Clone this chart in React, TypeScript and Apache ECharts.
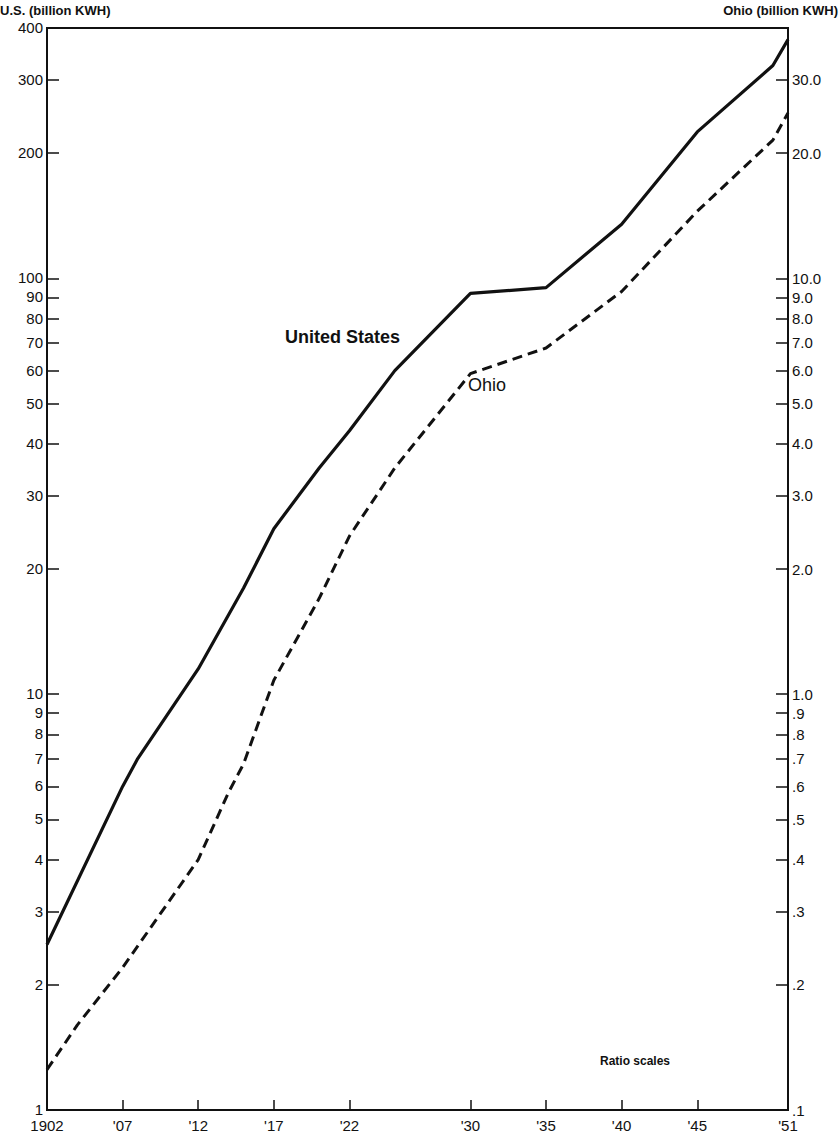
import React, { useEffect, useRef } from "react";
import * as echarts from "echarts";

const years = [1902, 1907, 1908, 1912, 1915, 1917, 1920, 1922, 1925, 1930, 1935, 1940, 1945, 1950, 1951];
const usValues = [2.5, 6.0, 7.0, 11.5, 18, 25, 35, 43, 60, 92, 95, 135, 225, 325, 375];
const ohioYears = [1902, 1904, 1907, 1912, 1914, 1915, 1917, 1920, 1922, 1925, 1930, 1935, 1940, 1945, 1950, 1951];
const ohioValues = [0.125, 0.16, 0.22, 0.4, 0.58, 0.68, 1.08, 1.7, 2.4, 3.5, 5.9, 6.8, 9.3, 14.5, 21.5, 25];
const xTicks = [1902, 1907, 1912, 1917, 1922, 1930, 1935, 1940, 1945, 1951];
const xTickLabels = ["1902", "'07", "'12", "'17", "'22", "'30", "'35", "'40", "'45", "'51"];
const usTicks = [1, 2, 3, 4, 5, 6, 7, 8, 9, 10, 20, 30, 40, 50, 60, 70, 80, 90, 100, 200, 300, 400];
const ohioTicks = [0.1, 0.2, 0.3, 0.4, 0.5, 0.6, 0.7, 0.8, 0.9, 1, 2, 3, 4, 5, 6, 7, 8, 9, 10, 20, 30];

const L = Math.log10;
const font = "Liberation Sans, Arial, sans-serif";

export default function App() {
  const ref = useRef<HTMLDivElement>(null);
  useEffect(() => {
    const chart = echarts.init(ref.current!, null, { renderer: "svg" });
    const fmtOhio = (v: number) => (v < 1 ? "." + Math.round(v * 10) : v.toFixed(1));
    chart.setOption({
      animation: false,
      backgroundColor: "#fff",
      grid: { left: 47, right: 52, top: 28, bottom: 27, show: true, borderColor: "#111", borderWidth: 2 },
      xAxis: {
        type: "value", min: 1902, max: 1951,
        axisLine: { lineStyle: { color: "#111", width: 2 } },
        axisTick: { inside: true, length: 10, lineStyle: { color: "#111", width: 1.5 }, customValues: xTicks },
        axisLabel: {
          customValues: xTicks, color: "#111", fontFamily: font, fontSize: 15, margin: 8,
          formatter: (v: number) => xTickLabels[xTicks.indexOf(Math.round(v))] ?? "",
        },
        splitLine: { show: false },
      },
      yAxis: [
        {
          type: "value", min: 0, max: L(400), position: "left",
          axisLine: { show: true, lineStyle: { color: "#111", width: 2 } },
          axisTick: { inside: true, length: 12, lineStyle: { color: "#111", width: 1.5 }, customValues: usTicks.map(L) },
          axisLabel: {
            customValues: usTicks.map(L), color: "#111", fontFamily: font, fontSize: 15, margin: 4,
            verticalAlign: "bottom", lineHeight: 15, padding: [0, 0, -7, 0],
            formatter: (v: number) => String(Math.round(Math.pow(10, v))),
          },
          splitLine: { show: false },
        },
        {
          type: "value", min: L(0.1), max: L(40), position: "right",
          axisLine: { show: true, lineStyle: { color: "#111", width: 2 } },
          axisTick: { inside: true, length: 12, lineStyle: { color: "#111", width: 1.5 }, customValues: ohioTicks.map(L) },
          axisLabel: {
            customValues: ohioTicks.map(L), color: "#111", fontFamily: font, fontSize: 15, margin: 4,
            formatter: (v: number) => fmtOhio(Math.round(Math.pow(10, v) * 10) / 10),
          },
          splitLine: { show: false },
        },
      ],
      series: [
        {
          type: "line", yAxisIndex: 0, symbol: "none",
          data: years.map((y, i) => [y, L(usValues[i])]),
          lineStyle: { color: "#111", width: 3.2 },
        },
        {
          type: "line", yAxisIndex: 1, symbol: "none",
          data: ohioYears.map((y, i) => [y, L(ohioValues[i])]),
          lineStyle: { color: "#111", width: 3, type: [10, 6] },
        },
      ],
      graphic: [
        { type: "text", left: 0, top: 4, style: { text: "U.S. (billion KWH)", font: `bold 13px ${font}`, fill: "#111" } },
        { type: "text", right: 2, top: 4, style: { text: "Ohio (billion KWH)", font: `bold 13px ${font}`, fill: "#111" } },
        { type: "text", left: 285, top: 328, style: { text: "United States", font: `bold 18px ${font}`, fill: "#111" } },
        { type: "text", left: 468, top: 376, style: { text: "Ohio", font: `18px ${font}`, fill: "#111" } },
        { type: "text", left: 600, top: 1055, style: { text: "Ratio scales", font: `bold 12px ${font}`, fill: "#111" } },
      ],
    });
    return () => chart.dispose();
  }, []);
  return <div ref={ref} style={{ position: "absolute", left: 0, top: 0, width: 840, height: 1137 }} />;
}
